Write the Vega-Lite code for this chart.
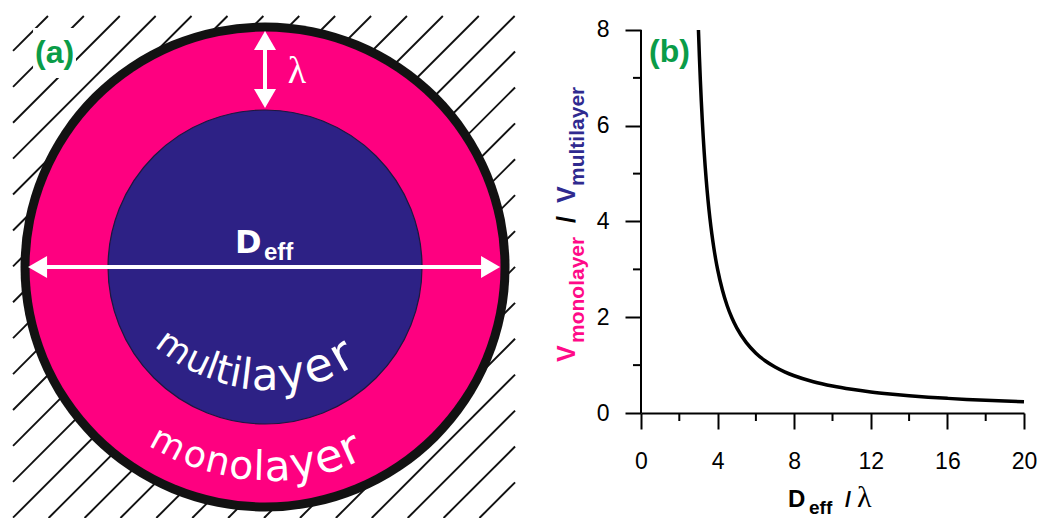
{
  "$schema": "https://vega.github.io/schema/vega-lite/v6.json",
  "padding": 0,
  "background": "white",
  "bounds": "flush",
  "spacing": 121,
  "config": {"view": {"stroke": null}, "font": "Liberation Sans"},
  "datasets": {
    "hatch": [
      {"u": -3.21, "v": 2.752, "u2": -2.765, "v2": 3.197},
      {"u": -3.21, "v": 2.295, "u2": -2.308, "v2": 3.197},
      {"u": -3.21, "v": 1.837, "u2": -1.850, "v2": 3.197},
      {"u": -3.21, "v": 1.380, "u2": -1.393, "v2": 3.197},
      {"u": -3.21, "v": 0.923, "u2": -0.936, "v2": 3.197},
      {"u": -3.21, "v": 0.465, "u2": -0.478, "v2": 3.197},
      {"u": -3.21, "v": 0.008, "u2": -0.021, "v2": 3.197},
      {"u": -3.21, "v": -0.449, "u2": 0.436, "v2": 3.197},
      {"u": -3.21, "v": -0.906, "u2": 0.893, "v2": 3.197},
      {"u": -3.21, "v": -1.364, "u2": 1.351, "v2": 3.197},
      {"u": -3.21, "v": -1.821, "u2": 1.808, "v2": 3.197},
      {"u": -3.21, "v": -2.278, "u2": 2.265, "v2": 3.197},
      {"u": -3.21, "v": -2.736, "u2": 2.723, "v2": 3.197},
      {"u": -3.21, "v": -3.193, "u2": 3.180, "v2": 3.197},
      {"u": -2.757, "v": -3.197, "u2": 3.185, "v2": 2.745},
      {"u": -2.299, "v": -3.197, "u2": 3.185, "v2": 2.287},
      {"u": -1.842, "v": -3.197, "u2": 3.185, "v2": 1.830},
      {"u": -1.385, "v": -3.197, "u2": 3.185, "v2": 1.373},
      {"u": -0.927, "v": -3.197, "u2": 3.185, "v2": 0.915},
      {"u": -0.470, "v": -3.197, "u2": 3.185, "v2": 0.458},
      {"u": -0.013, "v": -3.197, "u2": 3.185, "v2": 0.001},
      {"u": 0.445, "v": -3.197, "u2": 3.185, "v2": -0.457},
      {"u": 0.902, "v": -3.197, "u2": 3.185, "v2": -0.914},
      {"u": 1.359, "v": -3.197, "u2": 3.185, "v2": -1.371},
      {"u": 1.817, "v": -3.197, "u2": 3.185, "v2": -1.829},
      {"u": 2.274, "v": -3.197, "u2": 3.185, "v2": -2.286},
      {"u": 2.731, "v": -3.197, "u2": 3.185, "v2": -2.743}
    ],
    "labelbg": [{"u": -2.955, "v": 2.408, "u2": -2.408, "v2": 3.045}],
    "centre": [{"u": 0, "v": 0}],
    "shafts": [
      {"u": -2.9, "v": 0, "u2": 2.87, "v2": 0},
      {"u": 0, "v": 2.15, "u2": 0, "v2": 2.88}
    ],
    "heads": [
      {"u": -2.898, "v": 0, "dir": "left"},
      {"u": 2.873, "v": 0, "dir": "right"},
      {"u": 0, "v": 2.885, "dir": "up"},
      {"u": 0, "v": 2.146, "dir": "down"}
    ],
    "multi": [
      {"ch": "m", "i": 0, "u": -1.161, "v": -1.024, "phi": -36.0},
      {"ch": "u", "i": 1, "u": -0.853, "v": -1.207, "phi": -25.6},
      {"ch": "l", "i": 2, "u": -0.672, "v": -1.283, "phi": -19.9},
      {"ch": "t", "i": 3, "u": -0.528, "v": -1.329, "phi": -15.5},
      {"ch": "i", "i": 4, "u": -0.373, "v": -1.366, "phi": -10.9},
      {"ch": "l", "i": 5, "u": -0.237, "v": -1.387, "phi": -6.9},
      {"ch": "a", "i": 6, "u": 0.0, "v": -1.401, "phi": 0},
      {"ch": "y", "i": 7, "u": 0.339, "v": -1.372, "phi": 9.9},
      {"ch": "e", "i": 8, "u": 0.682, "v": -1.280, "phi": 20.2},
      {"ch": "r", "i": 9, "u": 0.981, "v": -1.140, "phi": 29.8}
    ],
    "mono": [
      {"ch": "m", "i": 0, "u": -1.236, "v": -2.251, "phi": -28.1},
      {"ch": "o", "i": 1, "u": -0.889, "v": -2.405, "phi": -19.8},
      {"ch": "n", "i": 2, "u": -0.604, "v": -2.490, "phi": -13.3},
      {"ch": "o", "i": 3, "u": -0.302, "v": -2.543, "phi": -6.6},
      {"ch": "l", "i": 4, "u": -0.078, "v": -2.559, "phi": -1.7},
      {"ch": "a", "i": 5, "u": 0.156, "v": -2.556, "phi": 3.4},
      {"ch": "y", "i": 6, "u": 0.483, "v": -2.515, "phi": 10.6},
      {"ch": "e", "i": 7, "u": 0.811, "v": -2.432, "phi": 18.0},
      {"ch": "r", "i": 8, "u": 1.084, "v": -2.326, "phi": 24.4}
    ],
    "curve": [
      {"x": 3.0, "y": 8.0}, {"x": 3.05, "y": 7.438}, {"x": 3.1, "y": 6.942}, {"x": 3.15, "y": 6.503},
      {"x": 3.2, "y": 6.111}, {"x": 3.25, "y": 5.76}, {"x": 3.3, "y": 5.444}, {"x": 3.35, "y": 5.158},
      {"x": 3.4, "y": 4.898}, {"x": 3.45, "y": 4.661}, {"x": 3.5, "y": 4.444}, {"x": 3.6, "y": 4.0625},
      {"x": 3.7, "y": 3.737}, {"x": 3.8, "y": 3.457}, {"x": 3.9, "y": 3.213}, {"x": 4.0, "y": 3.0},
      {"x": 4.25, "y": 2.568}, {"x": 4.5, "y": 2.24}, {"x": 4.75, "y": 1.983}, {"x": 5.0, "y": 1.778},
      {"x": 5.5, "y": 1.469}, {"x": 6.0, "y": 1.25}, {"x": 6.5, "y": 1.086}, {"x": 7.0, "y": 0.96},
      {"x": 7.5, "y": 0.8595}, {"x": 8.0, "y": 0.778}, {"x": 9.0, "y": 0.653}, {"x": 10.0, "y": 0.5625},
      {"x": 11.0, "y": 0.494}, {"x": 12.0, "y": 0.44}, {"x": 13.0, "y": 0.397}, {"x": 14.0, "y": 0.361},
      {"x": 15.0, "y": 0.331}, {"x": 16.0, "y": 0.306}, {"x": 17.0, "y": 0.284}, {"x": 18.0, "y": 0.266},
      {"x": 19.0, "y": 0.249}, {"x": 20.0, "y": 0.2346}
    ],
    "yaxisline": [{"x": 0, "y": 0, "y2": 8}],
    "minorx": [
      {"x": 2, "y": 0, "y2": -0.167}, {"x": 6, "y": 0, "y2": -0.167}, {"x": 10, "y": 0, "y2": -0.167},
      {"x": 14, "y": 0, "y2": -0.167}, {"x": 18, "y": 0, "y2": -0.167}
    ],
    "minory": [
      {"y": 1, "x": 0, "x2": -0.418}, {"y": 3, "x": 0, "x2": -0.418},
      {"y": 5, "x": 0, "x2": -0.418}, {"y": 7, "x": 0, "x2": -0.418}
    ]
  },
  "hconcat": [
    {
      "width": 520,
      "height": 518,
      "encoding": {
        "x": {"field": "u", "type": "quantitative", "scale": {"domain": [-3.376, 3.248], "nice": false, "zero": false}, "axis": null},
        "y": {"field": "v", "type": "quantitative", "scale": {"domain": [-3.197, 3.401], "nice": false, "zero": false}, "axis": null}
      },
      "layer": [
        {"data": {"name": "hatch"}, "mark": {"type": "rule", "color": "#111111", "strokeWidth": 1.9},
         "encoding": {"x2": {"field": "u2"}, "y2": {"field": "v2"}}},
        {"data": {"name": "labelbg"}, "mark": {"type": "rect", "color": "white"},
         "encoding": {"x2": {"field": "u2"}, "y2": {"field": "v2"}}},
        {"data": {"name": "centre"}, "mark": {"type": "point", "shape": "circle", "filled": true, "color": "#121212", "opacity": 1, "size": 239121}},
        {"data": {"name": "centre"}, "mark": {"type": "point", "shape": "circle", "filled": true, "color": "#fe0080", "opacity": 1, "size": 221841}},
        {"data": {"name": "centre"}, "mark": {"type": "point", "shape": "circle", "filled": true, "color": "#2d2185", "stroke": "#1c1740", "strokeWidth": 1.2, "opacity": 1, "size": 98596}},
        {"data": {"name": "shafts"}, "mark": {"type": "rule", "color": "white", "strokeWidth": 4},
         "encoding": {"x2": {"field": "u2"}, "y2": {"field": "v2"}}},
        {"data": {"name": "heads"}, "mark": {"type": "point", "filled": true, "color": "white", "opacity": 1, "size": 484},
         "encoding": {"shape": {"field": "dir", "type": "nominal", "legend": null,
           "scale": {"domain": ["left", "right", "up", "down"], "range": ["triangle-left", "triangle-right", "triangle-up", "triangle-down"]}}}},
        {"data": {"values": [{"u": -2.93, "v": 2.599, "t": "(a)"}]},
         "mark": {"type": "text", "align": "left", "baseline": "alphabetic", "font": "Liberation Sans", "fontWeight": "bold", "fontSize": 32, "color": "#0a9c48"},
         "encoding": {"text": {"field": "t"}}},
        {"data": {"values": [{"u": 0.408, "v": 2.344, "t": "λ"}]},
         "mark": {"type": "text", "align": "center", "baseline": "alphabetic", "font": "Liberation Serif", "fontSize": 38, "color": "white"},
         "encoding": {"text": {"field": "t"}}},
        {"data": {"values": [{"u": -0.382, "v": 0.178, "t": "D"}]},
         "mark": {"type": "text", "align": "left", "baseline": "alphabetic", "font": "DejaVu Sans", "fontWeight": "bold", "fontSize": 32, "color": "white"},
         "encoding": {"text": {"field": "t"}}},
        {"data": {"values": [{"u": -0.013, "v": 0.089, "t": "eff"}]},
         "mark": {"type": "text", "align": "left", "baseline": "alphabetic", "font": "Liberation Sans", "fontWeight": "bold", "fontSize": 24, "color": "white"},
         "encoding": {"text": {"field": "t"}}},
        {"data": {"name": "multi"},
         "mark": {"type": "text", "align": "center", "baseline": "middle", "font": "DejaVu Sans", "color": "white"},
         "encoding": {"text": {"field": "ch"},
           "size": {"field": "i", "type": "quantitative", "legend": null, "scale": {"domain": [0, 9], "range": [35, 48]}},
           "angle": {"field": "phi", "type": "quantitative", "scale": {"domain": [-90, 90], "range": [90, -90]}}}},
        {"data": {"name": "mono"},
         "mark": {"type": "text", "align": "center", "baseline": "middle", "font": "DejaVu Sans", "color": "white"},
         "encoding": {"text": {"field": "ch"},
           "size": {"field": "i", "type": "quantitative", "legend": null, "scale": {"domain": [0, 8], "range": [37, 46]}},
           "angle": {"field": "phi", "type": "quantitative", "scale": {"domain": [-90, 90], "range": [90, -90]}}}}
      ]
    },
    {
      "width": 383,
      "height": 413,
      "encoding": {
        "x": {"field": "x", "type": "quantitative", "scale": {"domain": [0, 20], "nice": false, "zero": false},
          "axis": {"values": [0, 4, 8, 12, 16, 20], "title": null, "grid": false, "domainColor": "black", "domainWidth": 2,
            "tickColor": "black", "tickWidth": 2, "tickSize": 16, "labelFontSize": 23, "labelFont": "Liberation Sans",
            "labelColor": "black", "labelPadding": 21, "labelFlush": false, "labelOverlap": false}},
        "y": {"field": "y", "type": "quantitative", "scale": {"domain": [0, 8.6266], "nice": false, "zero": false},
          "axis": {"values": [0, 2, 4, 6, 8], "title": null, "grid": false, "domain": false,
            "tickColor": "black", "tickWidth": 2, "tickSize": 16, "labelFontSize": 23, "labelFont": "Liberation Sans",
            "labelColor": "black", "labelPadding": 16, "labelFlush": false, "labelOverlap": false}}
      },
      "layer": [
        {"data": {"name": "yaxisline"}, "mark": {"type": "rule", "color": "black", "strokeWidth": 2},
         "encoding": {"y2": {"field": "y2"}}},
        {"data": {"name": "minorx"}, "mark": {"type": "rule", "color": "black", "strokeWidth": 2},
         "encoding": {"y2": {"field": "y2"}}},
        {"data": {"name": "minory"}, "mark": {"type": "rule", "color": "black", "strokeWidth": 2},
         "encoding": {"x2": {"field": "x2"}}},
        {"data": {"name": "curve"}, "mark": {"type": "line", "color": "black", "strokeWidth": 3.5, "interpolate": "monotone"}},
        {"data": {"values": [{"x": 0.418, "y": 7.332, "t": "(b)"}]},
         "mark": {"type": "text", "align": "left", "baseline": "alphabetic", "font": "Liberation Sans", "fontWeight": "bold", "fontSize": 32, "color": "#0a9c48"},
         "encoding": {"text": {"field": "t"}}},
        {"data": {"values": [{"x": 7.676, "y": -1.963, "t": "D"}]},
         "mark": {"type": "text", "align": "left", "baseline": "alphabetic", "fontWeight": "bold", "fontSize": 24, "color": "black"},
         "encoding": {"text": {"field": "t"}}},
        {"data": {"values": [{"x": 8.773, "y": -2.11, "t": "eff"}]},
         "mark": {"type": "text", "align": "left", "baseline": "alphabetic", "fontWeight": "bold", "fontSize": 19, "color": "black"},
         "encoding": {"text": {"field": "t"}}},
        {"data": {"values": [{"x": 10.653, "y": -1.963, "t": "/"}]},
         "mark": {"type": "text", "align": "left", "baseline": "alphabetic", "fontWeight": "bold", "fontSize": 22, "color": "black"},
         "encoding": {"text": {"field": "t"}}},
        {"data": {"values": [{"x": 11.279, "y": -1.963, "t": "λ"}]},
         "mark": {"type": "text", "align": "left", "baseline": "alphabetic", "font": "Liberation Serif", "fontSize": 30, "color": "black"},
         "encoding": {"text": {"field": "t"}}},
        {"data": {"values": [{"x": -3.446, "y": 1.065, "t": "V"}]},
         "mark": {"type": "text", "align": "left", "baseline": "alphabetic", "angle": 270, "fontWeight": "bold", "fontSize": 25, "color": "#ff0a88"},
         "encoding": {"text": {"field": "t"}}},
        {"data": {"values": [{"x": -2.977, "y": 1.462, "t": "monolayer"}]},
         "mark": {"type": "text", "align": "left", "baseline": "alphabetic", "angle": 270, "fontWeight": "bold", "fontSize": 21, "color": "#ff0a88"},
         "encoding": {"text": {"field": "t"}}},
        {"data": {"values": [{"x": -3.446, "y": 3.97, "t": "/"}]},
         "mark": {"type": "text", "align": "left", "baseline": "alphabetic", "angle": 270, "fontWeight": "bold", "fontSize": 25, "color": "black"},
         "encoding": {"text": {"field": "t"}}},
        {"data": {"values": [{"x": -3.446, "y": 4.386, "t": "V"}]},
         "mark": {"type": "text", "align": "left", "baseline": "alphabetic", "angle": 270, "fontWeight": "bold", "fontSize": 25, "color": "#2f2a8f"},
         "encoding": {"text": {"field": "t"}}},
        {"data": {"values": [{"x": -2.977, "y": 4.742, "t": "multilayer"}]},
         "mark": {"type": "text", "align": "left", "baseline": "alphabetic", "angle": 270, "fontWeight": "bold", "fontSize": 21, "color": "#2f2a8f"},
         "encoding": {"text": {"field": "t"}}}
      ]
    }
  ]
}
